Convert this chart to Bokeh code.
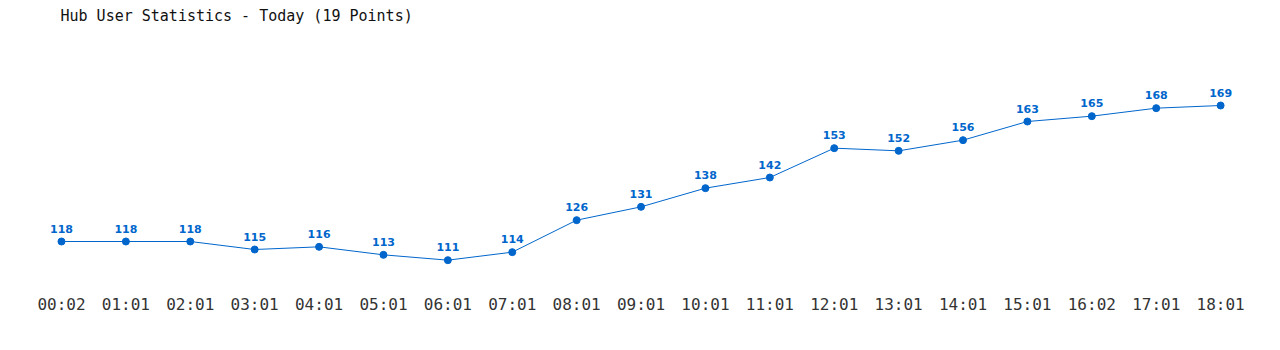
from bokeh.plotting import figure
from bokeh.models import ColumnDataSource, Range1d, FixedTicker
from bokeh.core.properties import value
from bokeh.embed import file_html
from bokeh.resources import INLINE

times = ["00:02", "01:01", "02:01", "03:01", "04:01", "05:01", "06:01", "07:01",
         "08:01", "09:01", "10:01", "11:01", "12:01", "13:01", "14:01", "15:01",
         "16:02", "17:01", "18:01"]
users = [118, 118, 118, 115, 116, 113, 111, 114, 126, 131, 138, 142, 153, 152,
         156, 163, 165, 168, 169]

idx = list(range(len(times)))
src = ColumnDataSource(dict(x=idx, y=users, lbl=[str(v) for v in users]))

BLUE = "#0066cc"
p = figure(width=1280, height=350, output_backend="svg", toolbar_location=None,
           min_border_left=0, min_border_right=0, min_border_top=23, min_border_bottom=64)
p.title.text = "Hub User Statistics - Today (19 Points)"
p.title.text_font = "DejaVu Sans Mono"
p.title.text_font_size = "15px"
p.title.text_font_style = "normal"
p.title.text_color = "#111111"
p.title.offset = 60
p.title.standoff = -3

p.x_range = Range1d(-0.947, 18.93)
p.y_range = Range1d(101.125, 199.75)

p.line("x", "y", source=src, line_color=BLUE, line_width=1)
p.scatter("x", "y", source=src, size=7, fill_color=BLUE, line_color=BLUE)
p.text("x", "y", text="lbl", source=src, text_align="center", text_baseline="bottom",
       y_offset=-9, text_color=BLUE, text_font=value("DejaVu Sans"),
       text_font_size="11px", text_font_style="bold")

p.yaxis.visible = False
p.xgrid.visible = False
p.ygrid.visible = False
p.outline_line_color = None
xa = p.xaxis[0]
xa.ticker = FixedTicker(ticks=idx)
xa.major_label_overrides = {i: t for i, t in enumerate(times)}
xa.axis_line_color = None
xa.major_tick_line_color = None
xa.minor_tick_line_color = None
xa.major_tick_out = 0
xa.major_tick_in = 0
xa.major_label_standoff = 8
xa.major_label_text_font = "DejaVu Sans Mono"
xa.major_label_text_font_size = "16px"
xa.major_label_text_color = "#333333"

open("out.html", "w").write(file_html(p, INLINE))
